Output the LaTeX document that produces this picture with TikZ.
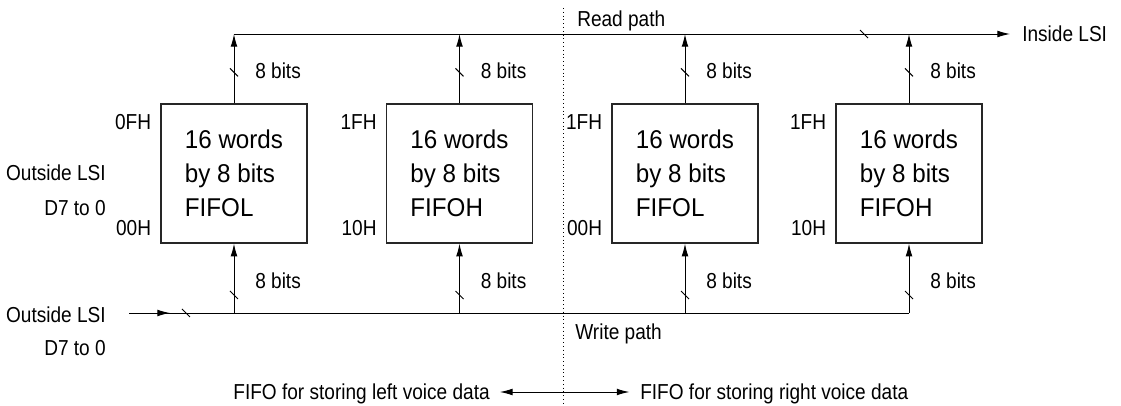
\documentclass[tikz,border=0pt]{standalone}
\usepackage{fontspec}
\setmainfont{Liberation Sans}
\newfontfamily\lblfont[FakeStretch=0.88]{Liberation Sans}
\newfontfamily\fifofont[FakeStretch=0.94]{Liberation Sans}
\usetikzlibrary{arrows.meta}
\tikzset{
 lbl/.style={inner sep=0pt, font=\lblfont\fontsize{15.4}{18}\selectfont, text height=11pt, text depth=0pt},
 fifo/.style={draw=black!85, line width=0.9pt, minimum width=3.65cm, minimum height=3.475cm, inner sep=0pt, align=left, font=\fifofont\fontsize{18.3}{24.2}\selectfont},
 bus/.style={line width=0.7pt},
 tip/.style={-{Latex[length=9pt,width=4.8pt]}},
}

\begin{document}
\begin{tikzpicture}[x=0.025cm, y=-0.025cm]
\useasboundingbox (0,0) rectangle (1121,406);

% divider between left and right halves
\draw[bus, dotted] (563,8) -- (563,406);

% the four fifos
\foreach \i/\x/\hi/\lo/\nm in {1/234/0FH/00H/FIFOL, 2/459.5/1FH/10H/FIFOH, 3/685/1FH/00H/FIFOL, 4/909/1FH/10H/FIFOH} {
 \node[fifo] (f\i) at (\x,173.5) {16 words\\by 8 bits\\\nm};
 \node[lbl, anchor=east] (hi\i) at ([xshift=-0.225cm, yshift=-0.45cm]f\i.north west) {\hi};
 \node[lbl, anchor=east] (lo\i) at ([xshift=-0.225cm, yshift=0.4cm]f\i.south west) {\lo};
 \node[lbl, anchor=west] (rb\i) at ([xshift=0.525cm, yshift=0.825cm]f\i.north) {8 bits};
 \node[lbl, anchor=west] (wb\i) at ([xshift=0.525cm, yshift=-0.925cm]f\i.south) {8 bits};
}

% read path
\coordinate (rdstart) at (f1.north |- 0,34);
\node[lbl, anchor=west] (inside) at (1022,34) {Inside LSI};
\node[lbl, anchor=west] (rdpath) at (577,19) {Read path};
\draw[bus, tip, shorten >=8.5pt] (rdstart) -- (inside.west);
\draw[bus] (864,34) ++(-4,-4) -- ++(8,8);

% write path
\node[lbl, anchor=east] (out1) at (106,173) {Outside LSI};
\node[lbl, anchor=east] (d71) at (106,208) {D7 to 0};
\node[lbl, anchor=east] (out2) at (106,315) {Outside LSI};
\node[lbl, anchor=east] (d72) at (106,348) {D7 to 0};
\node[lbl, anchor=west] (wrpath) at (575,332) {Write path};
\coordinate (wrin) at (129,313);
\coordinate (wrtip) at (170,313);
\draw[bus] (wrin) -- (f4.south |- wrin);
\draw[bus, tip] (wrin) -- (wrtip);
\draw[bus] (186,313) ++(-4,-4) -- ++(8,8);

\foreach \i in {1,...,4} {
 \draw[bus, tip] (f\i.north) -- (f\i.north |- rdstart);
 \draw[bus, tip] (f\i.south |- wrin) -- (f\i.south);
 \draw[bus] (f\i.north) ++(0,-31) ++(-4,-4) -- ++(8,8);
 \draw[bus] (f\i.south |- wrin) ++(0,-18) ++(-4,-4) -- ++(8,8);
}

% left / right halves
\node[lbl, anchor=east] (lefttxt) at (490,392) {FIFO for storing left voice data};
\node[lbl, anchor=west] (righttxt) at (640,392) {FIFO for storing right voice data};
\draw[bus, {Latex[length=9pt,width=4.8pt]}-{Latex[length=9pt,width=4.8pt]}, shorten <=7pt, shorten >=7.5pt] (lefttxt.east) -- (righttxt.west);
\end{tikzpicture}
\end{document}
